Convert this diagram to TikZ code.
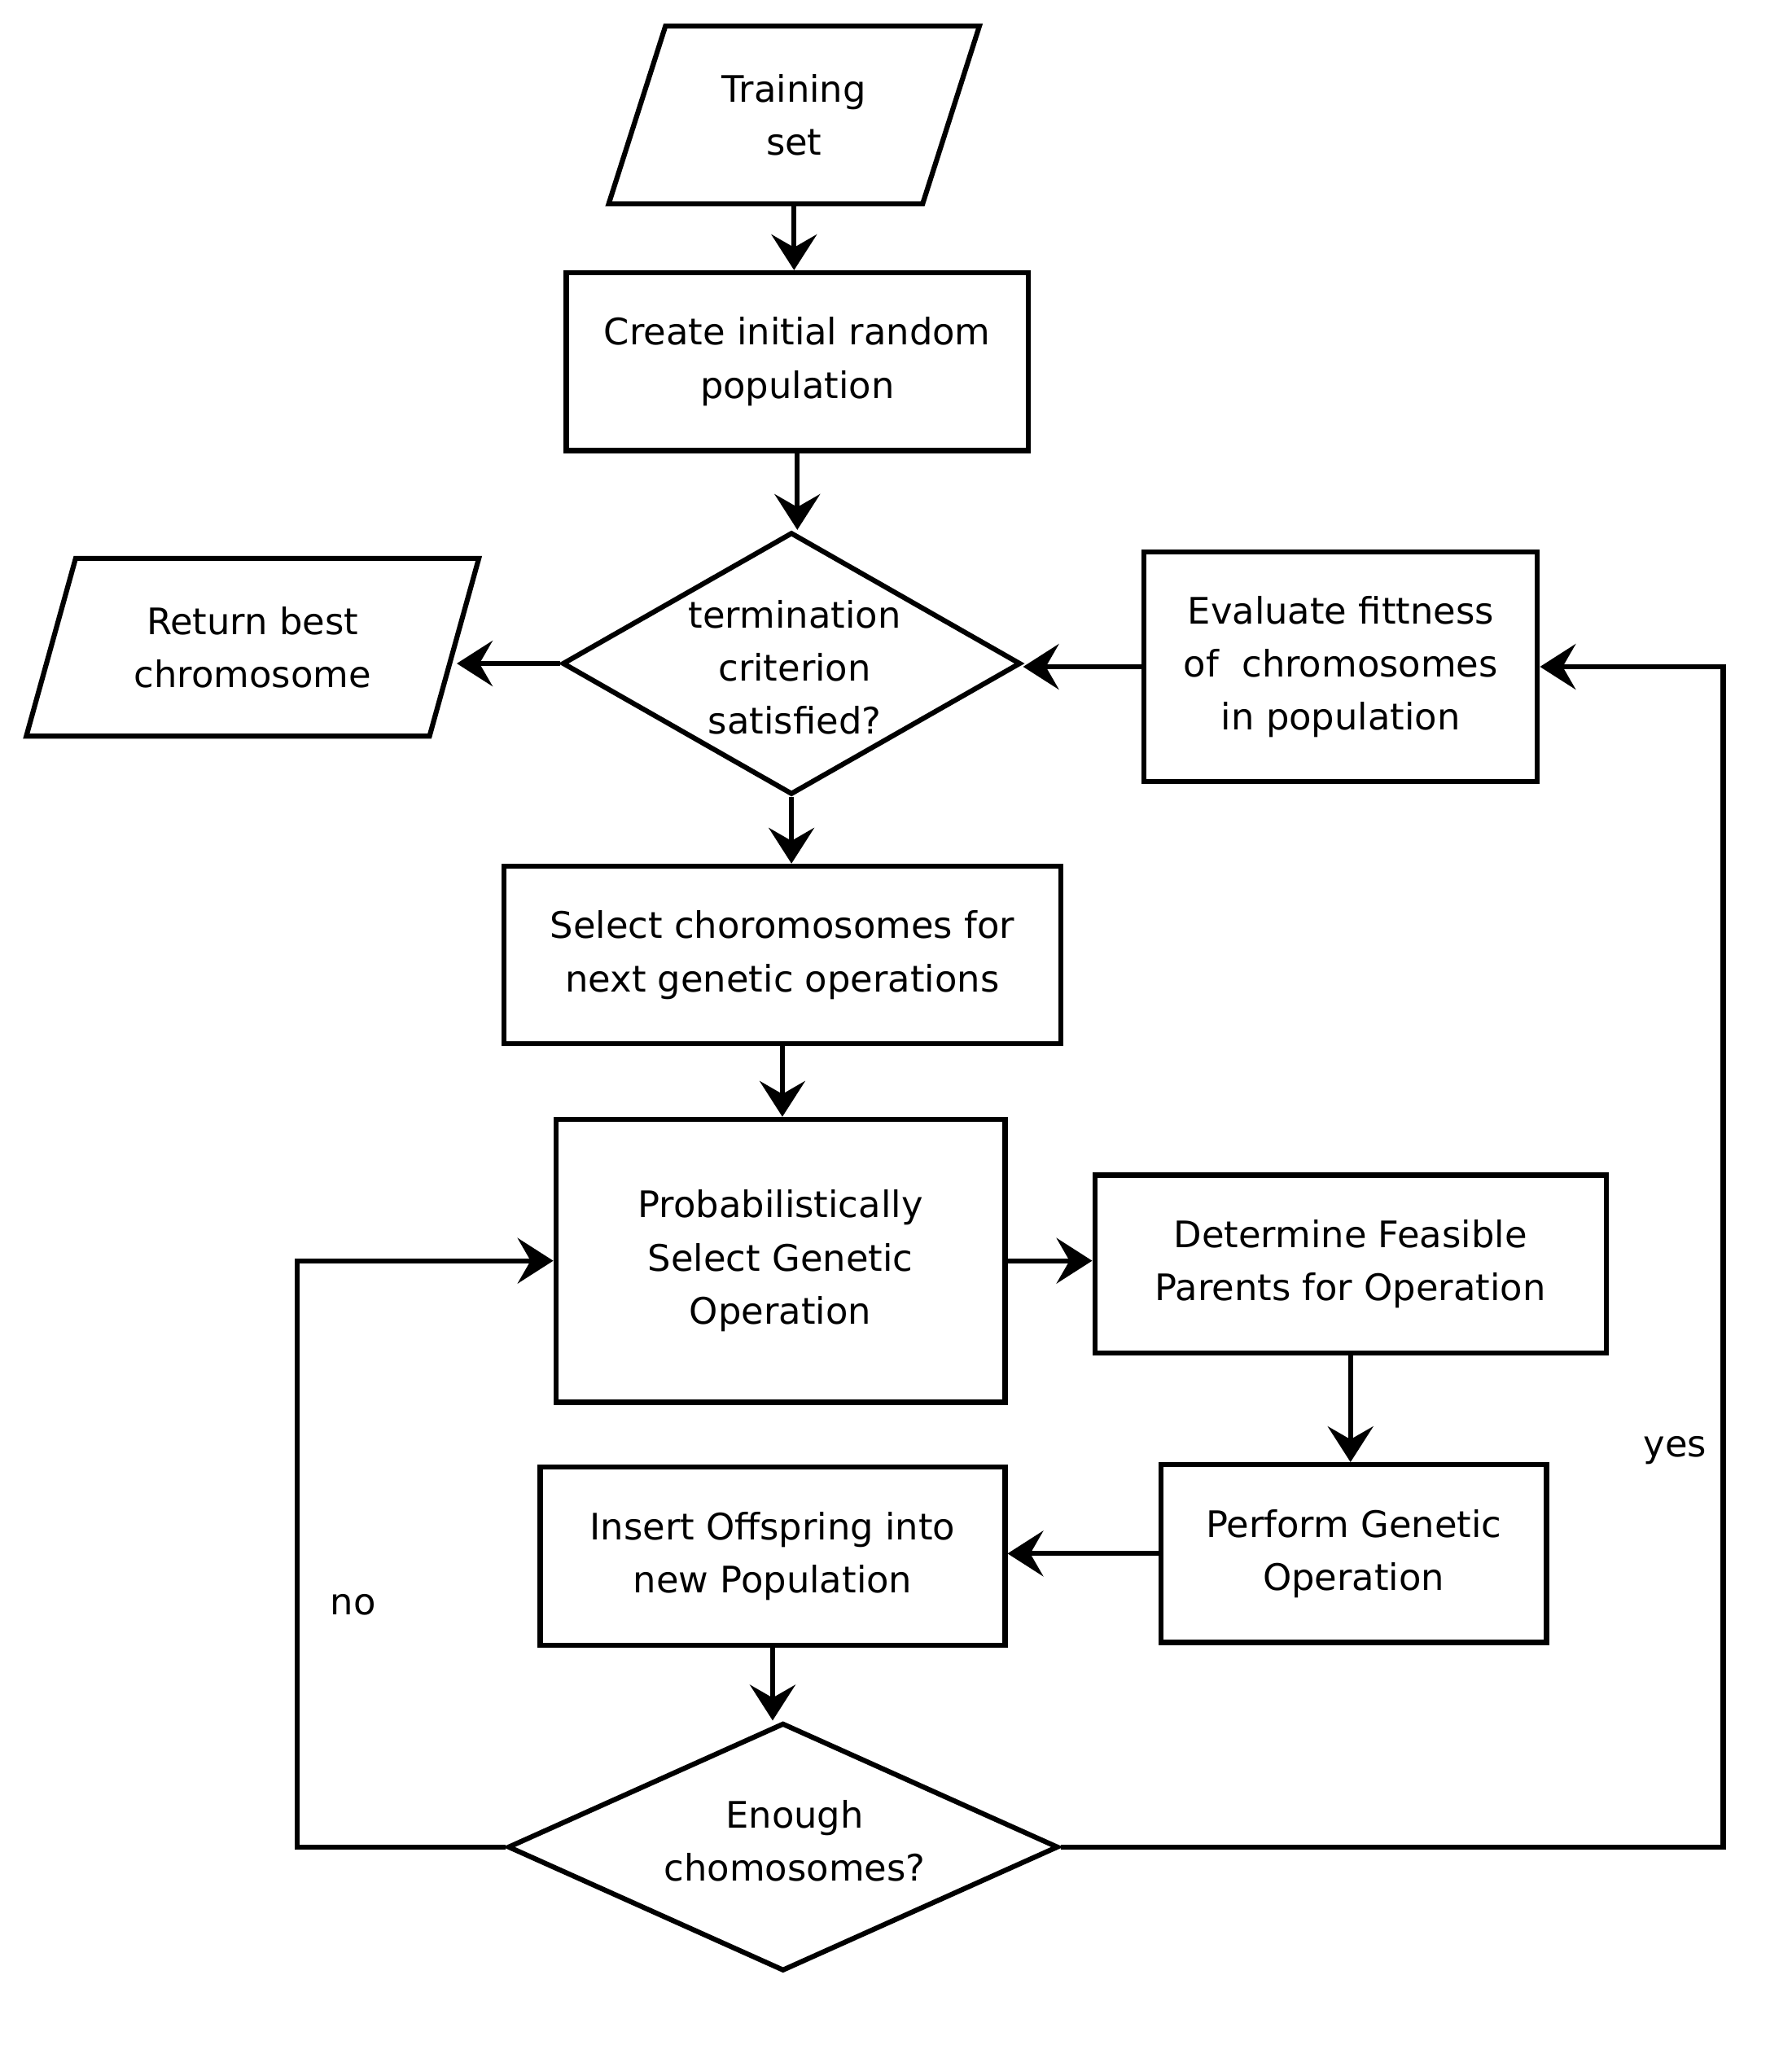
\documentclass[tikz,border=0pt]{standalone}
\usepackage{fontspec}
\setmainfont{DejaVu Sans}
\usetikzlibrary{shapes.geometric,arrows.meta}
\tikzset{
  box/.style={draw, line width=2.2pt, rectangle, align=center, minimum height=2.74cm,
    font=\fontsize{16}{23.3}\selectfont},
  io/.style={draw, line width=2.2pt, trapezium, trapezium left angle=70,
    trapezium right angle=110, trapezium stretches=true, align=center, minimum height=2.74cm,
    font=\fontsize{16}{23.3}\selectfont},
  cond/.style={draw, line width=2.2pt, diamond, inner sep=0pt},
  txt/.style={align=center, font=\fontsize{16}{23.3}\selectfont},
  arr/.style={line width=2.2pt, -{Stealth[length=0.55cm, width=0.7cm, inset=0.2cm]}}
}
\begin{document}
\begin{tikzpicture}[x=0.02cm, y=-0.02cm]
\useasboundingbox (0,0) rectangle (1380,1575);
% inputs and outputs
\node[io, minimum width=5.74cm] (train) at (611.5,88.5) {Training\\set};
\node[io, minimum width=6.98cm] (ret) at (194.5,498.5) {Return best\\chromosome};
% main column
\node[box, minimum width=7.12cm] (create) at (614,278.5) {Create initial random\\population};
\node[cond, minimum width=7.06cm, minimum height=4.04cm] (term) at (609.5,511) {};
\node[txt] (termtxt) at (612,514) {termination\\criterion\\satisfied?};
\node[box, minimum width=6.06cm, minimum height=3.54cm] (eval) at (1032.5,513.5) {Evaluate fittness\\of\ \ chromosomes\\in population};
\node[box, minimum width=8.58cm] (sel) at (602.5,735.5) {Select choromosomes for\\next genetic operations};
\node[box, minimum width=6.92cm, minimum height=4.36cm] (prob) at (601,971) {Probabilistically\\Select Genetic\\Operation};
\node[box, minimum width=7.88cm] (det) at (1040,973.5) {Determine Feasible\\Parents for Operation};
\node[box, minimum width=5.94cm] (perf) at (1042.5,1196.5) {Perform Genetic\\Operation};
\node[box, minimum width=7.16cm] (ins) at (595,1198.5) {Insert Offspring into\\new Population};
\node[cond, minimum width=8.48cm, minimum height=3.82cm] (enough) at (603,1422.5) {};
\node[txt] (enoughtxt) at (612,1418) {Enough\\chomosomes?};
% loop labels
\node[txt] (yes) at (1290,1117) {yes};
\node[txt] (no) at (272,1236) {no};
\coordinate (yesturn) at (1327,1422.5);
\coordinate (noturn) at (229,1422.5);
% connectors
\draw[arr] (train.south) -- (train.south |- create.north);
\draw[arr] (create.south) -- (create.south |- term.north);
\draw[arr] (term.west) -- (ret.east |- term.west);
\draw[arr] (eval.west) -- (eval.west -| term.east);
\draw[arr] (term.south) -- (term.south |- sel.north);
\draw[arr] (sel.south) -- (sel.south |- prob.north);
\draw[arr] (prob.east) -- (prob.east -| det.west);
\draw[arr] (det.south) -- (det.south |- perf.north);
\draw[arr] (perf.west) -- (perf.west -| ins.east);
\draw[arr] (ins.south) -- (ins.south |- enough.north);
\draw[arr] (enough.east) -- (yesturn) |- (eval.east);
\draw[arr] (enough.west) -- (noturn) |- (prob.west);
\end{tikzpicture}
\end{document}
